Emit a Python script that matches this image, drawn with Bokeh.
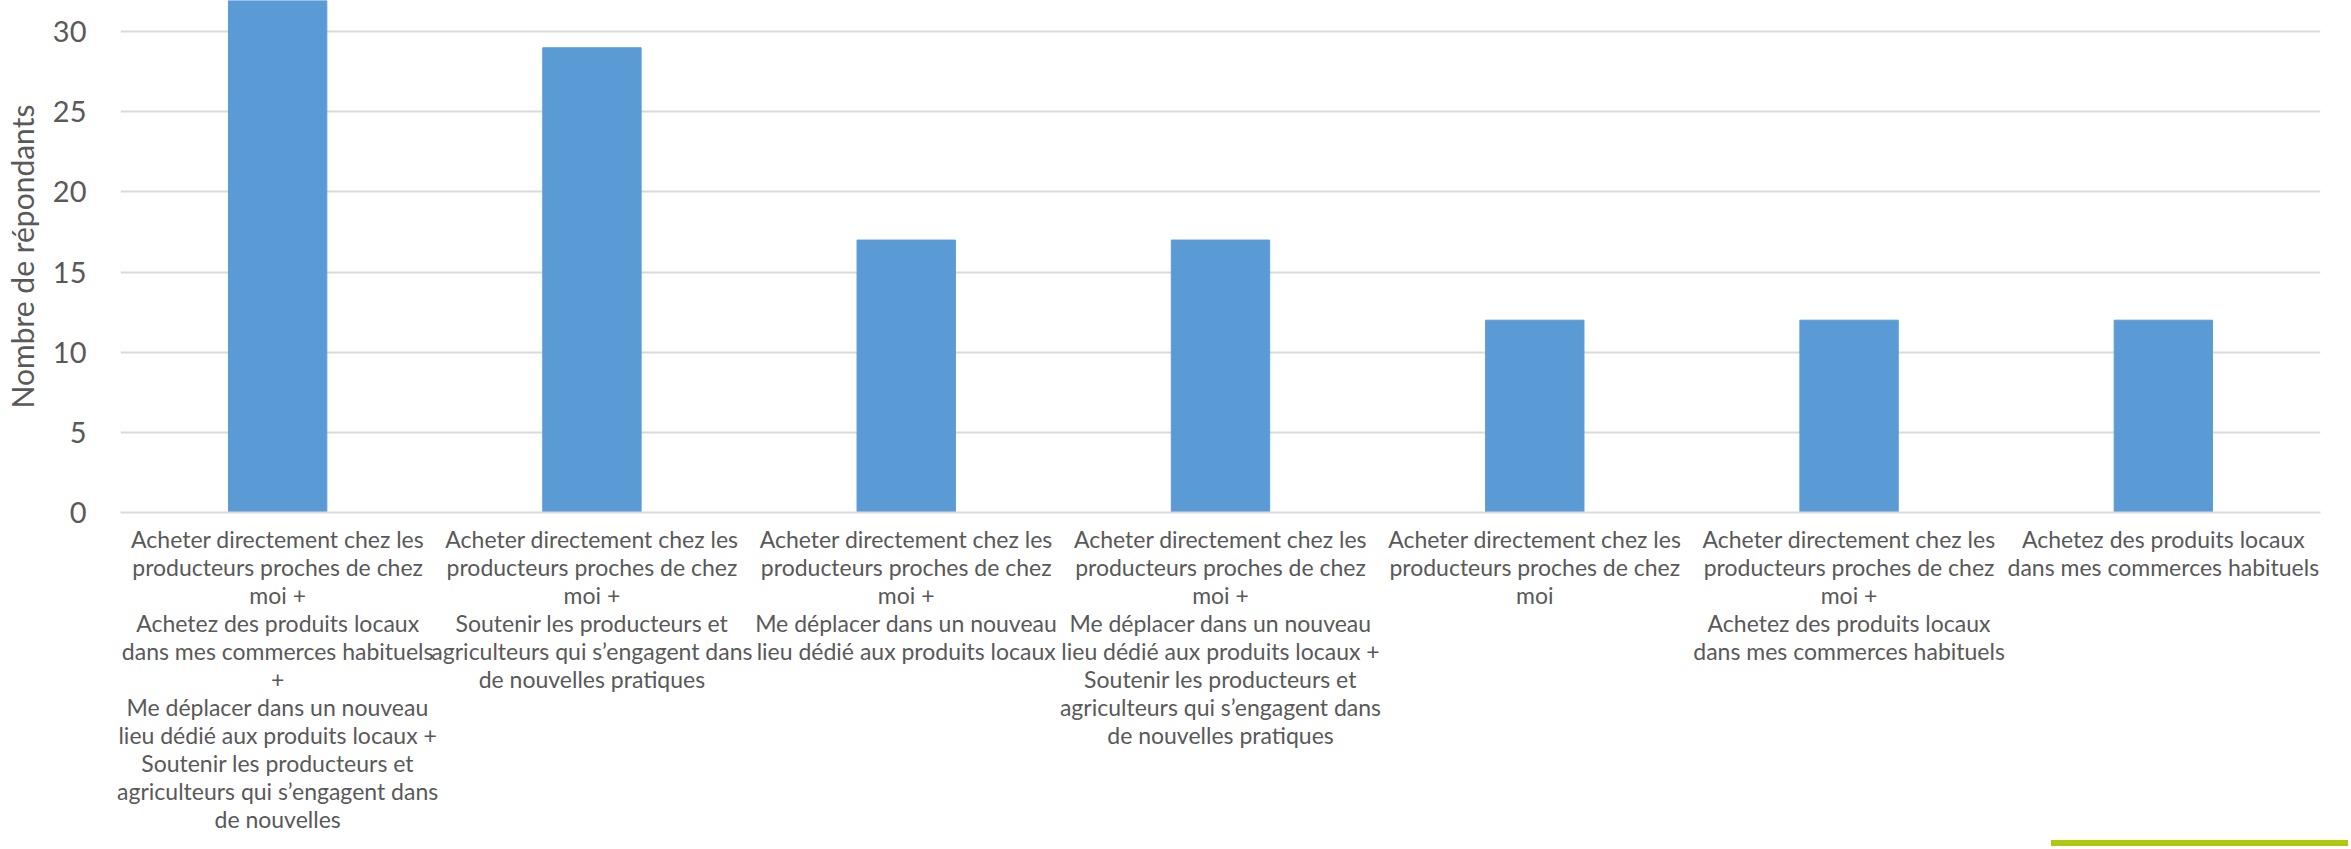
from bokeh.plotting import figure
from bokeh.models import Range1d, FixedTicker, Div, Spacer
from bokeh.layouts import column, row
from bokeh.embed import file_html
from bokeh.resources import INLINE

categories = [
    "Acheter directement chez les\nproducteurs proches de chez\nmoi +\nAchetez des produits locaux\ndans mes commerces habituels\n+\nMe déplacer dans un nouveau\nlieu dédié aux produits locaux +\nSoutenir les producteurs et\nagriculteurs qui s’engagent dans\nde nouvelles",
    "Acheter directement chez les\nproducteurs proches de chez\nmoi +\nSoutenir les producteurs et\nagriculteurs qui s’engagent dans\nde nouvelles pratiques",
    "Acheter directement chez les\nproducteurs proches de chez\nmoi +\nMe déplacer dans un nouveau\nlieu dédié aux produits locaux",
    "Acheter directement chez les\nproducteurs proches de chez\nmoi +\nMe déplacer dans un nouveau\nlieu dédié aux produits locaux +\nSoutenir les producteurs et\nagriculteurs qui s’engagent dans\nde nouvelles pratiques",
    "Acheter directement chez les\nproducteurs proches de chez\nmoi",
    "Acheter directement chez les\nproducteurs proches de chez\nmoi +\nAchetez des produits locaux\ndans mes commerces habituels",
    "Achetez des produits locaux\ndans mes commerces habituels",
]
values = [32, 29, 17, 17, 12, 12, 12]
y_ticks = [0, 5, 10, 15, 20, 25, 30]
y_title = "Nombre de répondants"

FONT = "Lato"
TEXT = "#595959"
GRID = "#D9D9D9"
BAR = "#5B9BD5"
ACCENT = "#AEC90E"

p = figure(
    x_range=categories,
    y_range=Range1d(0, 31.95),
    width=2343,
    height=835,
    output_backend="svg",
    toolbar_location=None,
    min_border_left=105,
    min_border_right=23,
    min_border_top=0,
    min_border_bottom=0,
)
p.outline_line_color = None
p.background_fill_color = "white"
p.border_fill_color = "white"

p.vbar(x=categories, top=values, width=0.313, color=BAR)

# y axis
p.yaxis.ticker = FixedTicker(ticks=y_ticks)
p.yaxis.axis_line_color = None
p.yaxis.major_tick_line_color = None
p.yaxis.minor_tick_line_color = None
p.yaxis.major_label_text_font = FONT
p.yaxis.major_label_text_font_size = "29px"
p.yaxis.major_label_text_color = TEXT
p.yaxis.major_label_standoff = 28
p.yaxis.axis_label = y_title
p.yaxis.axis_label_text_font = FONT
p.yaxis.axis_label_text_font_size = "30px"
p.yaxis.axis_label_text_font_style = "normal"
p.yaxis.axis_label_text_color = TEXT
p.yaxis.axis_label_standoff = 10

# x axis
p.xaxis.axis_line_color = GRID
p.xaxis.axis_line_width = 2
p.xaxis.major_tick_line_color = None
p.xaxis.minor_tick_line_color = None
p.xaxis.major_label_text_font = FONT
p.xaxis.major_label_text_font_size = "23px"
p.xaxis.major_label_text_color = TEXT
p.xaxis.major_label_text_line_height = 1.0
p.xaxis.major_label_standoff = 6
p.xaxis.major_label_orientation = "horizontal"

# grid
p.xgrid.grid_line_color = None
p.ygrid.ticker = FixedTicker(ticks=y_ticks)
p.ygrid.grid_line_color = GRID
p.ygrid.grid_line_width = 2

accent = Div(text="", width=297, height=6, styles={"background-color": ACCENT})
layout = column(p, row(Spacer(width=2046, height=6), accent, spacing=0), spacing=0)

open("out.html", "w").write(file_html(layout, INLINE))
